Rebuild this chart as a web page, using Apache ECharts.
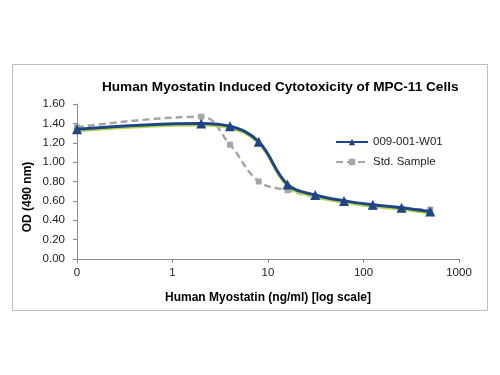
<!DOCTYPE html>
<html>
<head>
<meta charset="utf-8">
<script src="https://cdn.jsdelivr.net/npm/echarts@6/dist/echarts.min.js"></script>
<style>
  html, body { margin: 0; padding: 0; background: #fff; }
  #main { width: 500px; height: 375px; }
</style>
</head>
<body>
<div id="main"></div>
<script>
// concentrations (ng/ml); the first point sits at the left edge of the log axis
const doses = [0.1, 2, 4, 8, 16, 31.25, 62.5, 125, 250, 500];
const sampleW01 = [1.34, 1.40, 1.37, 1.21, 0.77, 0.66, 0.60, 0.56, 0.53, 0.49];
const stdSample = [1.36, 1.47, 1.18, 0.80, 0.71, 0.64, 0.59, 0.54, 0.52, 0.51];
const xTickLabels = ["0", "1", "10", "100", "1000"];
const seriesNames = ["009-001-W01", "Std. Sample"];

const font = "Liberation Sans, Arial, sans-serif";

function pairs(ys) {
  return doses.map((d, i) => [d, ys[i]]);
}

let chart = echarts.init(document.getElementById("main"));

let option = {
  animation: false,
  backgroundColor: "#fff",
  title: {
    text: "Human Myostatin Induced Cytotoxicity of MPC-11 Cells",
    left: 97,
    top: 75,
    textStyle: { fontFamily: font, fontSize: 13.6, fontWeight: "bold", color: "#000" },
  },
  graphic: [
    {
      type: "rect",
      shape: { x: 12.5, y: 64.5, width: 475, height: 246 },
      style: { fill: "none", stroke: "#bdbdbd", lineWidth: 1 },
      z: -1,
    },
    {
      type: "text",
      x: 28,
      y: 197,
      rotation: Math.PI / 2,
      style: {
        text: "OD (490 nm)",
        fontFamily: font,
        fontSize: 12,
        fontWeight: "bold",
        fill: "#000",
        align: "center",
        verticalAlign: "middle",
      },
    },
  ],
  legend: {
    orient: "vertical",
    left: 330,
    top: 131,
    itemWidth: 32,
    itemHeight: 8,
    itemGap: 8,
    data: seriesNames,
    textStyle: { fontFamily: font, fontSize: 11.5, color: "#222" },
  },
  grid: { left: 77, right: 41, top: 104, bottom: 116 },
  xAxis: {
    type: "log",
    logBase: 10,
    min: 0.1,
    max: 1000,
    name: "Human Myostatin (ng/ml) [log scale]",
    nameLocation: "middle",
    nameGap: 33,
    nameTextStyle: { fontFamily: font, fontSize: 12, fontWeight: "bold", color: "#000" },
    axisLine: { lineStyle: { color: "#8c8c8c", width: 1 } },
    axisTick: { show: true, length: 4, lineStyle: { color: "#8c8c8c" } },
    minorTick: { show: false },
    axisLabel: {
      fontFamily: font,
      fontSize: 11.5,
      color: "#222",
      margin: 8,
      formatter: (v, i) => xTickLabels[i],
    },
    splitLine: { show: false },
  },
  yAxis: {
    type: "value",
    min: 0,
    max: 1.6,
    interval: 0.2,
    axisLine: { show: true, lineStyle: { color: "#8c8c8c", width: 1 } },
    axisTick: { show: true, length: 4, lineStyle: { color: "#8c8c8c" } },
    axisLabel: {
      fontFamily: font,
      fontSize: 11.5,
      color: "#222",
      margin: 12,
      formatter: (v) => v.toFixed(2),
    },
    splitLine: { show: false },
  },
  series: [
    {
      name: seriesNames[1],
      type: "line",
      smooth: 0.4,
      data: pairs(stdSample),
      symbol: "rect",
      symbolSize: 6,
      itemStyle: { color: "#a6a6a6" },
      lineStyle: { color: "#a6a6a6", width: 2.5, type: [7, 4] },
      z: 2,
    },
    {
      name: seriesNames[0],
      type: "line",
      smooth: 0.4,
      data: pairs(sampleW01),
      symbol: "triangle",
      symbolSize: 10,
      itemStyle: { color: "#1f4586" },
      lineStyle: {
        color: "#1f4586",
        width: 3,
        shadowColor: "#b9d94a",
        shadowBlur: 0,
        shadowOffsetY: 1.5,
      },
      z: 3,
    },
  ],
};

chart.setOption(option);
window.onresize = chart.resize;
</script>
</body>
</html>
